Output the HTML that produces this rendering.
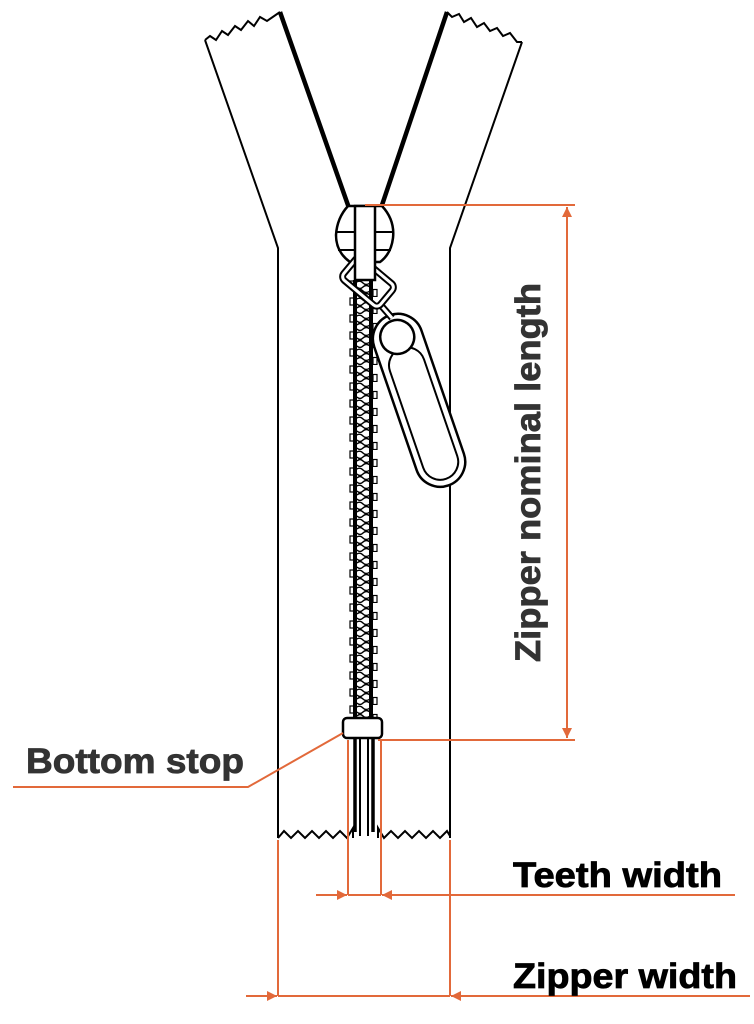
<!DOCTYPE html>
<html><head><meta charset="utf-8"><style>
html,body{margin:0;padding:0;background:#fff;}
svg{display:block;}
text{font-family:"Liberation Sans",sans-serif;font-weight:bold;}
</style></head><body>
<svg width="754" height="1024" viewBox="0 0 754 1024" xmlns="http://www.w3.org/2000/svg">
<defs>
<pattern id="teeth" x="349" y="280" width="30" height="17" patternUnits="userSpaceOnUse">
<rect x="1" y="1" width="4" height="7" fill="#fff" stroke="#000" stroke-width="1.2"/>
<rect x="24" y="9.5" width="4" height="7" fill="#fff" stroke="#000" stroke-width="1.2"/>
<path d="M8 2 q3 -2 6 1 q3 3 7 0 M8 7 q3 3 6 0 q3 -3 7 0 M8 11 q3 -3 6 0 q3 3 7 0 M8 15 q3 3 6 0 q3 -3 7 0" fill="none" stroke="#000" stroke-width="1.4"/>
</pattern>
<marker id="ar" markerWidth="10" markerHeight="10" refX="10" refY="5" orient="auto" markerUnits="userSpaceOnUse"><path d="M0 0 L10 5 L0 10 Z" fill="#e2693a"/></marker>
</defs>
<g fill="none" stroke="#000" stroke-width="2">
<polyline points="205,40 210,36 216,40 222,31 228,35 235,26 241,30 248,21 254,26 260,17 267,21 280,12"/>
<polyline points="205,40 278,248 278,838"/>
<line x1="280" y1="12" x2="349" y2="208" stroke-width="4.5"/>
<polyline points="447,12 452,17 459,14 464,22 471,18 477,27 484,23 490,31 497,28 503,36 510,33 517,42 522,42"/>
<polyline points="522,42 450,248 450,838"/>
<line x1="447" y1="12" x2="381" y2="208" stroke-width="4.5"/>
<polyline points="278,838 284,831 291,838 298,831 305,838 312,831 319,838 326,831 333,838 340,831 347,838 353,828 353,838"/>
<polyline points="378,838 378,828 384,838 391,831 398,838 405,831 412,838 419,831 426,838 433,831 440,838 447,831 450,836"/>
</g>
<rect x="349" y="280" width="30" height="438" fill="url(#teeth)"/>
<line x1="355" y1="280" x2="355" y2="718" stroke="#000" stroke-width="4"/>
<line x1="371" y1="280" x2="371" y2="718" stroke="#000" stroke-width="4"/>
<g stroke="#000">
<line x1="355" y1="738" x2="355" y2="832" stroke-width="3.5"/>
<line x1="360" y1="738" x2="360" y2="836" stroke-width="2"/>
<line x1="368" y1="738" x2="368" y2="836" stroke-width="2"/>
<line x1="373" y1="738" x2="373" y2="832" stroke-width="3.5"/>
</g>
<rect x="343" y="718" width="39" height="20" rx="4" fill="#fff" stroke="#000" stroke-width="2.5"/>
<path d="M348,206 L382,206 Q395,220 393,238 Q391,254 380,262 L350,262 Q336,252 336,235 Q337,218 348,206 Z" fill="#fff" stroke="#000" stroke-width="2.5"/>
<line x1="337" y1="232" x2="392" y2="232" stroke="#000" stroke-width="2"/>
<line x1="338" y1="250" x2="391" y2="250" stroke="#000" stroke-width="2"/>
<g transform="rotate(-19 420 400)">
<rect x="394" y="310" width="50" height="180" rx="25" fill="#fff" stroke="#000" stroke-width="2.5"/>
<rect x="401" y="345" width="36" height="138" rx="18" fill="#fff" stroke="#000" stroke-width="2"/>
<circle cx="419" cy="333" r="17" fill="#fff" stroke="#000" stroke-width="2.5"/>
</g>
<line x1="378" y1="302" x2="392" y2="318" stroke="#000" stroke-width="7"/>
<line x1="378" y1="302" x2="392" y2="318" stroke="#fff" stroke-width="3"/>
<g transform="rotate(40 368 282)">
<rect x="344" y="268" width="48" height="28" rx="5" fill="none" stroke="#000" stroke-width="7"/>
<rect x="344" y="268" width="48" height="28" rx="5" fill="none" stroke="#fff" stroke-width="3"/>
</g>
<rect x="355" y="206" width="20" height="74" fill="#fff" stroke="#000" stroke-width="2.5"/>
<g stroke="#e2693a" stroke-width="2" fill="none">
<line x1="365" y1="205" x2="575" y2="205"/>
<line x1="378" y1="740" x2="575" y2="740"/>
<line x1="567" y1="215" x2="567" y2="207" marker-end="url(#ar)"/>
<line x1="567" y1="215" x2="567" y2="730"/>
<line x1="567" y1="725" x2="567" y2="738" marker-end="url(#ar)"/>
<polyline points="13,787 248,787 343,733"/>
<line x1="348" y1="740" x2="348" y2="895"/>
<line x1="381" y1="740" x2="381" y2="895"/>
<line x1="316" y1="895" x2="347" y2="895" marker-end="url(#ar)"/>
<line x1="735" y1="895" x2="382" y2="895" marker-end="url(#ar)"/>
<line x1="348" y1="895" x2="381" y2="895"/>
<line x1="278" y1="840" x2="278" y2="996"/>
<line x1="450" y1="840" x2="450" y2="996"/>
<line x1="246" y1="996" x2="277" y2="996" marker-end="url(#ar)"/>
<line x1="750" y1="996" x2="451" y2="996" marker-end="url(#ar)"/>
<line x1="278" y1="996" x2="450" y2="996"/>
</g>
<text x="26" y="773" font-size="35" fill="#333" stroke="#333" stroke-width="0.8" textLength="218" lengthAdjust="spacingAndGlyphs">Bottom stop</text>
<text x="513" y="887" font-size="35" fill="#000" stroke="#000" stroke-width="0.8" textLength="209" lengthAdjust="spacingAndGlyphs">Teeth width</text>
<text x="513" y="988" font-size="35" fill="#000" stroke="#000" stroke-width="0.8" textLength="224" lengthAdjust="spacingAndGlyphs">Zipper width</text>
<text transform="translate(540 662) rotate(-90)" x="0" y="0" font-size="35" fill="#333" stroke="#333" stroke-width="0.8" textLength="379" lengthAdjust="spacingAndGlyphs">Zipper nominal length</text>
</svg>
</body></html>
